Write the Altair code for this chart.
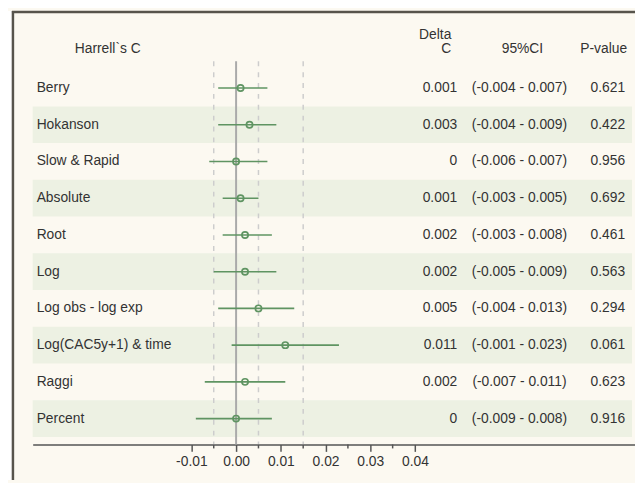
import altair as alt
import pandas as pd

# ---- data ----
labels = ["Berry", "Hokanson", "Slow & Rapid", "Absolute", "Root", "Log",
          "Log obs - log exp", "Log(CAC5y+1) & time", "Raggi", "Percent"]
delta = [0.001, 0.003, 0, 0.001, 0.002, 0.002, 0.005, 0.011, 0.002, 0]
ci_lo = [-0.004, -0.004, -0.006, -0.003, -0.003, -0.005, -0.004, -0.001, -0.007, -0.009]
ci_hi = [0.007, 0.009, 0.007, 0.005, 0.008, 0.009, 0.013, 0.023, 0.011, 0.008]
p_values = [0.621, 0.422, 0.956, 0.692, 0.461, 0.563, 0.294, 0.061, 0.623, 0.916]

axis_ticks = [-0.01, 0.0, 0.01, 0.02, 0.03, 0.04]
minor_ticks = [-0.005, 0.005, 0.015, 0.025, 0.035]
dashed_refs = [-0.005, 0.005, 0.015]
zero_ref = [0.0]


def fmt(v):
    return "0" if v == 0 else f"{v:.3f}"


df = pd.DataFrame({
    "label": labels,
    "idx": list(range(len(labels))),
    "delta": delta,
    "lo": ci_lo,
    "hi": ci_hi,
    "delta_txt": [fmt(v) for v in delta],
    "ci_txt": [f"({fmt(a)} - {fmt(b)})" for a, b in zip(ci_lo, ci_hi)],
    "p_txt": [f"{p:.3f}" for p in p_values],
})

FONT = "Liberation Sans"
TXT = "#333333"
GREEN = "#5f9462"
CREAM = "#FCF9F1"
STRIPE = "#EDF1E3"
BORDER = "#57544c"

xscale = alt.Scale(domain=[-0.045475, 0.089183], nice=False, zero=False)
yscale = alt.Scale(domain=labels, range=[59.4, 431.4], paddingInner=0, paddingOuter=0)
xaxis = alt.Axis(values=axis_ticks, title=None, grid=False,
                 labelExpr="replace(format(datum.value, '.2f'), '\u2212', '-')",
                 domainColor="#555555", domainWidth=1.5, tickColor="#555555",
                 tickSize=7, tickWidth=1.5, labelFont=FONT, labelFontSize=14,
                 labelColor=TXT, labelPadding=3)
Y = alt.Y("label:N", scale=yscale, axis=None)

base = alt.Chart(df)

stripes = base.transform_filter("datum.idx % 2 == 1").mark_rect(color=STRIPE).encode(
    y=Y, x=alt.value(0), x2=alt.value(607))

dashed = alt.Chart(pd.DataFrame({"v": dashed_refs})).mark_rule(
    color="#cdcdcd", strokeWidth=1.5, strokeDash=[5, 6]).encode(
    x=alt.X("v:Q", scale=xscale, axis=xaxis), y=alt.value(51), y2=alt.value(439))

zero = alt.Chart(pd.DataFrame({"v": zero_ref})).mark_rule(
    color="#aaaaaa", strokeWidth=2).encode(
    x=alt.X("v:Q", scale=xscale, axis=xaxis), y=alt.value(51), y2=alt.value(439))

minor = alt.Chart(pd.DataFrame({"v": minor_ticks})).mark_rule(
    color="#555555", strokeWidth=1.5).encode(
    x=alt.X("v:Q", scale=xscale, axis=xaxis), y=alt.value(439), y2=alt.value(443))

ci = base.mark_rule(color=GREEN, strokeWidth=1.6).encode(
    x=alt.X("lo:Q", scale=xscale, axis=xaxis), x2="hi:Q", y=Y)

pts = base.mark_point(shape="circle", filled=False, color=GREEN, size=40,
                      strokeWidth=1.7, opacity=1).encode(
    x=alt.X("delta:Q", scale=xscale, axis=xaxis), y=Y)

txt_kw = dict(font=FONT, fontSize=14, color=TXT, baseline="middle")
lab_txt = base.mark_text(align="left", **txt_kw).encode(
    x=alt.value(4), y=Y, text="label:N")
d_txt = base.mark_text(align="right", **txt_kw).encode(
    x=alt.value(430), y=Y, text="delta_txt:N")
c_txt = base.mark_text(align="center", **txt_kw).encode(
    x=alt.value(493), y=Y, text="ci_txt:N")
p_txt = base.mark_text(align="right", **txt_kw).encode(
    x=alt.value(600), y=Y, text="p_txt:N")


def header(t, x, y, align):
    return alt.Chart(alt.Data(values=[{"t": t}])).mark_text(
        align=align, **txt_kw).encode(text="t:N", x=alt.value(x), y=alt.value(y))


headers = [
    header("Harrell`s C", 76, 39, "center"),
    header("Delta", 424, 24, "right"),
    header("C", 424, 39, "right"),
    header("95%CI", 496, 39, "center"),
    header("P-value", 602, 39, "right"),
]

one = alt.Data(values=[{"k": 1}])
white_strip = alt.Chart(one).mark_rect(color="white").encode(
    x=alt.value(-25), x2=alt.value(-21), y=alt.value(0), y2=alt.value(475))
left_border = alt.Chart(one).mark_rule(color=BORDER, strokeWidth=2.5).encode(
    x=alt.value(-20), y=alt.value(0), y2=alt.value(475))
top_border = alt.Chart(one).mark_rule(color=BORDER, strokeWidth=2.5).encode(
    y=alt.value(1), x=alt.value(-21), x2=alt.value(610))

chart = alt.layer(
    white_strip, stripes, dashed, zero, minor, ci, pts,
    lab_txt, d_txt, c_txt, p_txt, *headers, left_border, top_border
).properties(
    width=610, height=439,
    autosize=alt.AutoSizeParams(type="none"),
    padding={"left": 25, "top": 0, "right": 0, "bottom": 36},
    background=CREAM,
).configure_view(stroke=None)

chart.save("out.html", embed_options={"renderer": "svg", "actions": False})
